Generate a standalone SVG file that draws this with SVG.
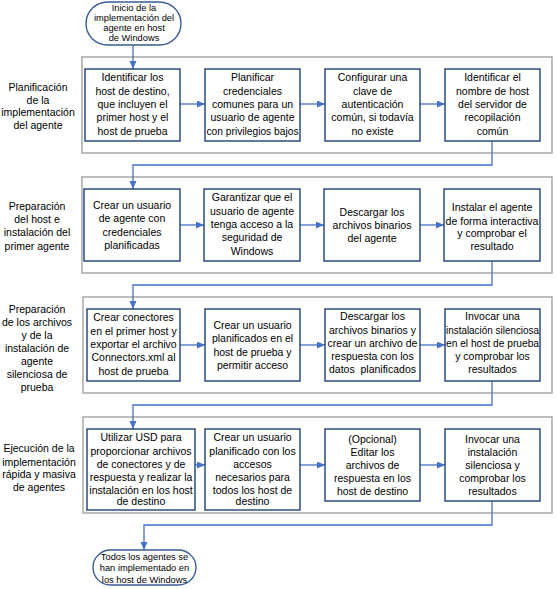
<svg xmlns="http://www.w3.org/2000/svg" width="557" height="589" viewBox="0 0 557 589">
<defs>
<style>
.lane{fill:#ffffff;stroke:#9c9c9c;stroke-width:1.3}
.box{fill:#ffffff;stroke:#1f3f78;stroke-width:1.4}
.term{fill:#ffffff;stroke:#3a5c96;stroke-width:1.4}
.t{font-family:"Liberation Sans",Arial,sans-serif;font-size:10.5px;fill:#000;text-anchor:middle}
.ts{font-family:"Liberation Sans",Arial,sans-serif;font-size:9.3px;fill:#000;text-anchor:middle}
.c{fill:none;stroke:#4472c4;stroke-width:1.3}
</style>
<marker id="ah" markerUnits="userSpaceOnUse" markerWidth="9" markerHeight="8" refX="8" refY="3.5" orient="auto">
<path d="M0,0 L8,3.5 L0,7 z" fill="#4472c4"/>
</marker>
</defs>
<rect width="557" height="589" fill="#ffffff"/>

<g id="lanes">
<rect class="lane" x="82" y="57" width="470" height="96"/>
<rect class="lane" x="82" y="177" width="470" height="96"/>
<rect class="lane" x="83" y="297" width="469" height="96"/>
<rect class="lane" x="83" y="417" width="469" height="96"/>
</g>

<g id="lane-labels">
<text class="t" x="38" y="91">Planificación</text>
<text class="t" x="38" y="103.5">de la</text>
<text class="t" x="38" y="116">implementación</text>
<text class="t" x="38" y="129">del agente</text>

<text class="t" x="37" y="210">Preparación</text>
<text class="t" x="37" y="223">del host e</text>
<text class="t" x="37" y="236">instalación del</text>
<text class="t" x="37" y="250">primer agente</text>

<text class="t" x="37" y="313">Preparación</text>
<text class="t" x="37" y="326">de los archivos</text>
<text class="t" x="37" y="339">y de la</text>
<text class="t" x="37" y="351.5">instalación de</text>
<text class="t" x="37" y="365">agente</text>
<text class="t" x="37" y="378">silenciosa de</text>
<text class="t" x="37" y="391">prueba</text>

<text class="t" x="39" y="452">Ejecución de la</text>
<text class="t" x="39" y="466">implementación</text>
<text class="t" x="39" y="478">rápida y masiva</text>
<text class="t" x="39" y="491">de agentes</text>
</g>

<g id="connectors">
<path class="c" d="M133,45 L133,69" marker-end="url(#ah)"/>
<path class="c" d="M180,104 L205,104" marker-end="url(#ah)"/>
<path class="c" d="M300,104 L325,104" marker-end="url(#ah)"/>
<path class="c" d="M420,104 L445,104" marker-end="url(#ah)"/>
<path class="c" d="M492,141 L492,165 L133,165 L133,189" marker-end="url(#ah)"/>
<path class="c" d="M180,225 L204,225" marker-end="url(#ah)"/>
<path class="c" d="M300,225 L324,225" marker-end="url(#ah)"/>
<path class="c" d="M420,225 L444,225" marker-end="url(#ah)"/>
<path class="c" d="M492,261 L492,285 L133,285 L133,309" marker-end="url(#ah)"/>
<path class="c" d="M180,345 L205,345" marker-end="url(#ah)"/>
<path class="c" d="M300,345 L325,345" marker-end="url(#ah)"/>
<path class="c" d="M420,345 L445,345" marker-end="url(#ah)"/>
<path class="c" d="M492,381 L492,405 L133,405 L133,429" marker-end="url(#ah)"/>
<path class="c" d="M195,465 L205,465" marker-end="url(#ah)"/>
<path class="c" d="M300,465 L325,465" marker-end="url(#ah)"/>
<path class="c" d="M420,465 L445,465" marker-end="url(#ah)"/>
<path class="c" d="M492,501 L492,525 L144,525 L144,550" marker-end="url(#ah)"/>
</g>

<g id="start">
<rect class="term" x="86" y="2" width="95" height="43" rx="21.5" ry="21.5"/>
<text class="ts" x="134" y="10.5">Inicio de la</text>
<text class="ts" x="134" y="21">implementación del</text>
<text class="ts" x="134" y="31">agente en host</text>
<text class="ts" x="134" y="41">de Windows</text>
</g>

<g id="n1-1">
<rect class="box" x="85" y="69" width="95" height="72"/>
<text class="t" x="132.5" y="81">Identificar los</text>
<text class="t" x="132.5" y="94.5">host de destino,</text>
<text class="t" x="132.5" y="108">que incluyen el</text>
<text class="t" x="132.5" y="121">primer host y el</text>
<text class="t" x="132.5" y="134.5">host de prueba</text>
</g>
<g id="n1-2">
<rect class="box" x="205" y="69" width="95" height="72"/>
<text class="t" x="252.5" y="81">Planificar</text>
<text class="t" x="252.5" y="94.5">credenciales</text>
<text class="t" x="252.5" y="108">comunes para un</text>
<text class="t" x="252.5" y="121">usuario de agente</text>
<text class="t" x="252.5" y="134.5" textLength="92" lengthAdjust="spacingAndGlyphs">con privilegios bajos</text>
</g>
<g id="n1-3">
<rect class="box" x="325" y="69" width="95" height="72"/>
<text class="t" x="372.5" y="81">Configurar una</text>
<text class="t" x="372.5" y="94.5">clave de</text>
<text class="t" x="372.5" y="108">autenticación</text>
<text class="t" x="372.5" y="121">común, si todavía</text>
<text class="t" x="372.5" y="134.5">no existe</text>
</g>
<g id="n1-4">
<rect class="box" x="445" y="69" width="95" height="72"/>
<text class="t" x="492.5" y="81">Identificar el</text>
<text class="t" x="492.5" y="94.5">nombre de host</text>
<text class="t" x="492.5" y="108">del servidor de</text>
<text class="t" x="492.5" y="121">recopilación</text>
<text class="t" x="492.5" y="134.5">común</text>
</g>

<g id="n2-1">
<rect class="box" x="84" y="189" width="96" height="72"/>
<text class="t" x="132" y="209">Crear un usuario</text>
<text class="t" x="132" y="222">de agente con</text>
<text class="t" x="132" y="236">credenciales</text>
<text class="t" x="132" y="249">planificadas</text>
</g>
<g id="n2-2">
<rect class="box" x="204" y="189" width="96" height="72"/>
<text class="t" x="252" y="201">Garantizar que el</text>
<text class="t" x="252" y="214.5">usuario de agente</text>
<text class="t" x="252" y="228">tenga acceso a la</text>
<text class="t" x="252" y="241">seguridad de</text>
<text class="t" x="252" y="254.5">Windows</text>
</g>
<g id="n2-3">
<rect class="box" x="324" y="189" width="96" height="72"/>
<text class="t" x="372" y="216">Descargar los</text>
<text class="t" x="372" y="229">archivos binarios</text>
<text class="t" x="372" y="242">del agente</text>
</g>
<g id="n2-4">
<rect class="box" x="444" y="189" width="96" height="72"/>
<text class="t" x="492" y="211">Instalar el agente</text>
<text class="t" x="492" y="224.5" textLength="93" lengthAdjust="spacingAndGlyphs">de forma interactiva</text>
<text class="t" x="492" y="237">y comprobar el</text>
<text class="t" x="492" y="250">resultado</text>
</g>

<g id="n3-1">
<rect class="box" x="87" y="309" width="93" height="72"/>
<text class="t" x="133.5" y="321">Crear conectores</text>
<text class="t" x="133.5" y="334.5">en el primer host y</text>
<text class="t" x="133.5" y="348">exportar el archivo</text>
<text class="t" x="133.5" y="361">Connectors.xml al</text>
<text class="t" x="133.5" y="374.5">host de prueba</text>
</g>
<g id="n3-2">
<rect class="box" x="205" y="309" width="95" height="72"/>
<text class="t" x="252.5" y="329">Crear un usuario</text>
<text class="t" x="252.5" y="342">planificados en el</text>
<text class="t" x="252.5" y="355.5">host de prueba y</text>
<text class="t" x="252.5" y="368.5">permitir acceso</text>
</g>
<g id="n3-3">
<rect class="box" x="325" y="309" width="95" height="72"/>
<text class="t" x="372.5" y="320">Descargar los</text>
<text class="t" x="372.5" y="333.5">archivos binarios y</text>
<text class="t" x="372.5" y="347">crear un archivo de</text>
<text class="t" x="372.5" y="360">respuesta con los</text>
<text class="t" x="372.5" y="373" xml:space="preserve">datos  planificados</text>
</g>
<g id="n3-4">
<rect class="box" x="445" y="309" width="95" height="72"/>
<text class="t" x="492.5" y="320">Invocar una</text>
<text class="t" x="492.5" y="333.5" textLength="93" lengthAdjust="spacingAndGlyphs">instalación silenciosa</text>
<text class="t" x="492.5" y="347" textLength="93" lengthAdjust="spacingAndGlyphs">en el host de prueba</text>
<text class="t" x="492.5" y="360">y comprobar los</text>
<text class="t" x="492.5" y="373">resultados</text>
</g>

<g id="n4-1">
<rect class="box" x="87" y="429" width="108" height="81"/>
<text class="t" x="141" y="441">Utilizar USD para</text>
<text class="t" x="141" y="454.5">proporcionar archivos</text>
<text class="t" x="141" y="467.5">de conectores y de</text>
<text class="t" x="141" y="481">respuesta y realizar la</text>
<text class="t" x="141" y="494">instalación en los host</text>
<text class="t" x="141" y="505">de destino</text>
</g>
<g id="n4-2">
<rect class="box" x="205" y="429" width="95" height="81"/>
<text class="t" x="252.5" y="441">Crear un usuario</text>
<text class="t" x="252.5" y="454.5">planificado con los</text>
<text class="t" x="252.5" y="467.5">accesos</text>
<text class="t" x="252.5" y="481">necesarios para</text>
<text class="t" x="252.5" y="494">todos los host de</text>
<text class="t" x="252.5" y="505">destino</text>
</g>
<g id="n4-3">
<rect class="box" x="325" y="429" width="95" height="72"/>
<text class="t" x="372.5" y="443">(Opcional)</text>
<text class="t" x="372.5" y="456">Editar los</text>
<text class="t" x="372.5" y="469">archivos de</text>
<text class="t" x="372.5" y="482">respuesta en los</text>
<text class="t" x="372.5" y="495">host de destino</text>
</g>
<g id="n4-4">
<rect class="box" x="445" y="429" width="95" height="72"/>
<text class="t" x="492.5" y="443">Invocar una</text>
<text class="t" x="492.5" y="456">instalación</text>
<text class="t" x="492.5" y="469">silenciosa y</text>
<text class="t" x="492.5" y="482">comprobar los</text>
<text class="t" x="492.5" y="495">resultados</text>
</g>

<g id="end">
<rect class="term" x="93" y="550" width="103" height="35" rx="17.5" ry="17.5"/>
<text class="ts" x="144.5" y="559.5">Todos los agentes se</text>
<text class="ts" x="144.5" y="571">han implementado en</text>
<text class="ts" x="144.5" y="582.5">los host de Windows</text>
</g>
</svg>
